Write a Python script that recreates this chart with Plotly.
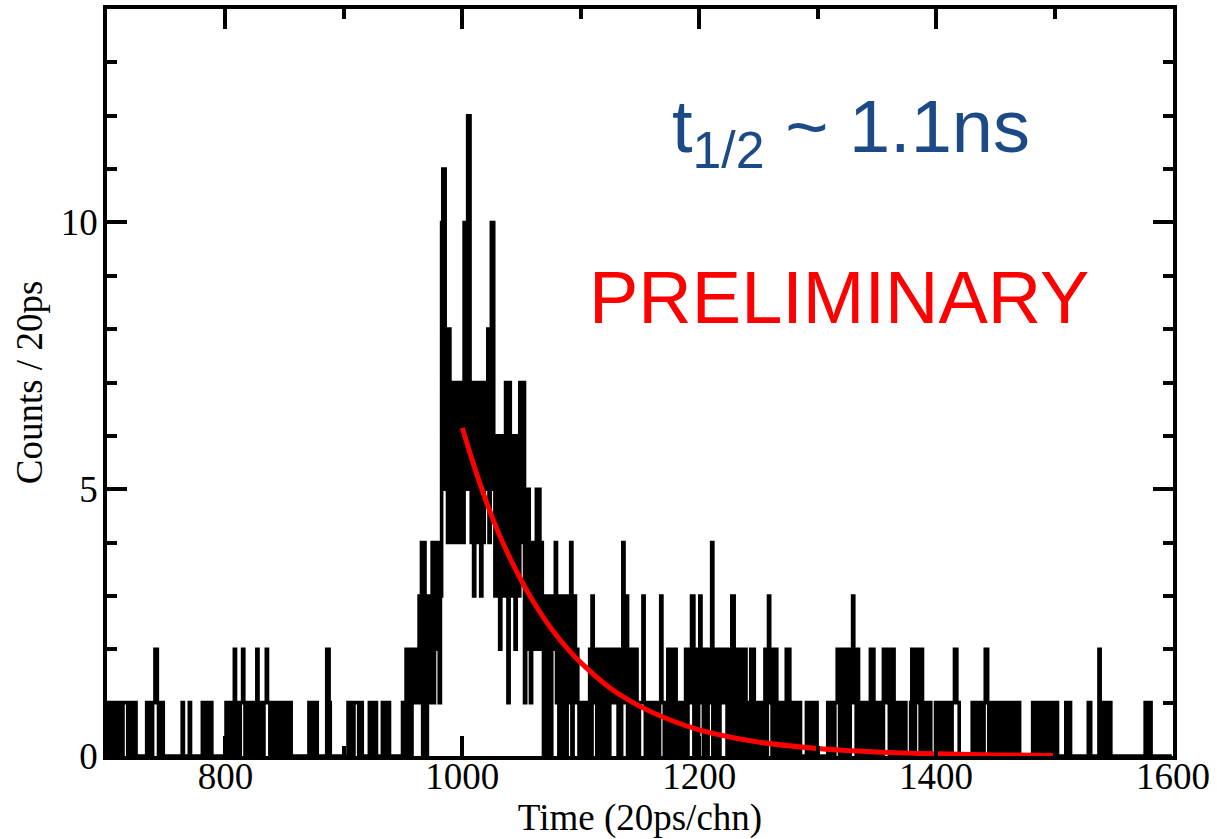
import plotly.graph_objects as go

# ---------------- data ----------------
first_channel = 700

counts_700 = [1,1,0,1,0,1,1,0,1,0,
              1,1,1,0,1,1,1,1,0,1,
              0,1,1,0,1,0,0,0,0,0,
              0,0,0,0,1,0,1,1,0,1,
              1,2,2,1,0,1,0,1,0,0,
              0,0,0,0,0,0,0,0,0,0,
              0,0,0,0,1,0,0,0,0,0,
              1,0,0,0,0,0,0,0,0,0,
              0,1,0,1,1,0,0,0,1,0,
              0,0,0,0,0,0,0,0,0,0]
counts_800 = [0,1,0,1,1,1,0,1,2,1,
              0,1,0,1,1,2,1,0,1,1,
              0,1,0,1,1,0,1,2,1,0,
              1,1,0,1,1,2,1,1,0,1,
              1,1,0,1,0,1,1,1,0,1,
              0,1,1,0,1,1,0,0,0,0,
              0,0,0,0,0,0,0,0,0,0,
              0,1,0,1,1,0,1,1,0,0,
              0,0,0,0,0,0,2,2,1,0,
              0,0,0,0,0,0,0,0,0,0]
counts_900 = [0,0,0,0,1,0,1,1,0,1,
              1,1,1,0,1,1,0,0,0,0,
              0,0,1,0,1,1,0,1,0,0,
              0,0,0,1,1,1,0,1,1,0,
              0,0,0,0,0,0,0,0,0,0,
              1,1,0,2,0,1,2,0,2,1,
              2,1,2,1,3,2,4,0,4,1,
              0,3,1,3,2,4,1,3,4,2,
              4,1,3,10,11,11,5,8,4,8,
              6,7,4,7,5,7,4,6,4,7]
counts_1000 = [5,4,10,6,5,12,12,7,4,6,
               3,7,5,7,4,6,3,7,4,5,
               7,5,8,4,6,10,10,5,3,6,
               4,6,2,5,6,3,5,7,4,1,
               7,3,6,4,6,2,5,6,3,7,
               4,6,7,1,5,3,5,2,1,4,
               2,3,2,5,2,5,3,4,2,0,
               3,1,0,3,1,0,2,3,2,4,
               1,2,0,3,1,0,2,3,0,1,
               3,1,4,0,2,3,1,2,1,0]
counts_1100 = [1,0,1,1,0,1,0,1,2,0,
               3,1,1,2,0,2,1,0,2,0,
               1,2,0,2,0,1,2,1,2,1,
               2,1,0,2,0,2,4,1,2,3,
               0,1,2,0,1,2,0,2,1,0,
               1,1,1,3,1,0,1,0,1,0,
               1,1,0,1,0,1,0,1,3,1,
               1,0,1,0,2,1,0,2,1,0,
               2,1,0,1,0,1,1,0,1,2,
               0,2,1,1,3,3,0,2,1,0]
counts_1200 = [2,3,1,2,0,2,1,0,2,1,
               1,4,0,2,0,1,2,0,2,1,
               1,2,1,1,0,2,1,0,3,3,
               1,0,2,1,0,2,1,2,0,2,
               1,0,1,0,2,1,2,0,1,0,
               1,1,0,1,0,1,2,0,2,3,
               1,2,0,2,1,2,0,1,0,1,
               1,0,1,0,2,1,2,0,1,1,
               1,0,1,0,1,1,0,0,0,0,
               0,1,0,1,1,0,1,0,1,1]
counts_1300 = [0,0,0,0,0,0,0,0,0,1,
               0,1,1,1,0,1,1,2,1,0,
               2,1,1,0,2,1,2,0,1,2,
               3,1,2,0,2,1,0,1,1,0,
               1,1,0,0,0,2,1,2,0,1,
               0,1,1,0,1,0,2,1,2,1,
               1,0,2,1,2,0,1,1,0,1,
               0,1,1,0,1,0,0,0,0,1,
               2,2,0,1,2,1,2,0,2,1,
               1,0,1,1,0,1,0,0,0,0]
counts_1400 = [1,0,1,1,0,1,1,0,1,0,
               0,0,1,0,1,1,2,2,1,1,
               0,0,0,0,0,0,0,0,0,0,
               0,1,0,1,1,0,1,0,1,1,
               0,1,2,2,1,0,1,1,0,1,
               1,0,0,0,1,0,1,1,0,1,
               1,0,0,0,1,0,1,1,0,1,
               1,0,0,0,0,0,0,0,0,0,
               0,0,1,0,1,1,0,1,0,1,
               1,0,1,0,0,0,1,0,1,1]
counts_1500 = [0,1,1,0,0,0,0,0,0,0,
               1,0,1,1,0,0,0,0,0,0,
               0,0,0,0,0,0,0,0,0,1,
               1,0,0,0,0,0,0,0,2,0,
               0,0,1,0,1,1,0,1,0,0,
               0,0,0,0,0,0,0,0,0,0,
               0,0,0,0,0,0,0,0,0,0,
               0,0,0,0,0,0,0,1,1,0,
               1,1,0,0,0,0,0,0,0,0,
               0,0,0,0,0,0,0,0,0,0]

counts = (counts_700 + counts_800 + counts_900 + counts_1000 + counts_1100
          + counts_1200 + counts_1300 + counts_1400 + counts_1500)
channels = list(range(first_channel, first_channel + len(counts)))

# exponential fit curve
fit_channels = [1000, 1010, 1020, 1030, 1040, 1050, 1060, 1075, 1090, 1100,
                1125, 1150, 1175, 1200, 1225, 1250, 1300, 1350, 1400, 1450, 1500]
fit_counts = [6.15, 5.43, 4.78, 4.21, 3.72, 3.28, 2.89, 2.39, 1.98, 1.75,
              1.27, 0.93, 0.68, 0.49, 0.36, 0.26, 0.14, 0.075, 0.04, 0.02, 0.011]

x_range = [700, 1600]
y_range = [0, 14]

# ---------------- figure ----------------
fig = go.Figure()
fig.add_trace(go.Scatter(
    x=channels, y=counts, mode="lines",
    line=dict(color="black", width=3.6, shape="hvh"),
    hoverinfo="skip", showlegend=False))
fig.add_trace(go.Scatter(
    x=fit_channels, y=fit_counts, mode="lines",
    line=dict(color="#ff0000", width=5, shape="spline"),
    hoverinfo="skip", showlegend=False))

serif = "Liberation Serif"
axis_common = dict(
    ticks="inside", ticklen=20, tickwidth=3.5, tickcolor="black",
    showline=True, linewidth=3.5, linecolor="black", mirror="ticks",
    showgrid=False, zeroline=False, automargin=False,
    tickfont=dict(family=serif, size=37, color="black"),
)

fig.update_xaxes(
    range=x_range, tick0=800, dtick=200,
    minor=dict(tick0=700, dtick=100, ticks="inside", ticklen=10, tickwidth=3.5,
               tickcolor="black", showgrid=False),
    title=dict(text="Time (20ps/chn)", standoff=2,
               font=dict(family=serif, size=37, color="black")),
    ticklabelstandoff=-15,
    **axis_common)
fig.update_yaxes(
    range=y_range, tick0=0, dtick=5,
    minor=dict(tick0=0, dtick=1, ticks="inside", ticklen=10, tickwidth=3.5,
               tickcolor="black", showgrid=False),
    title=dict(text="Counts / 20ps", standoff=8,
               font=dict(family=serif, size=37, color="black")),
    ticklabelstandoff=-2,
    **axis_common)

fig.add_annotation(
    x=1175, y=11.7, xref="x", yref="y", xanchor="left", yanchor="middle",
    text="t<sub>1/2</sub> ~ 1.1ns", showarrow=False,
    font=dict(family="Liberation Sans", size=74, color="#1b4a86"))
fig.add_annotation(
    x=1105, y=8.6, xref="x", yref="y", xanchor="left", yanchor="middle",
    text="PRELIMINARY", showarrow=False,
    font=dict(family="Liberation Sans", size=74, color="#ff0000"))

fig.update_layout(
    width=1217, height=839,
    margin=dict(l=107, r=44, t=9, b=83),
    paper_bgcolor="white", plot_bgcolor="white",
    showlegend=False,
)

fig.write_html("out.html")
